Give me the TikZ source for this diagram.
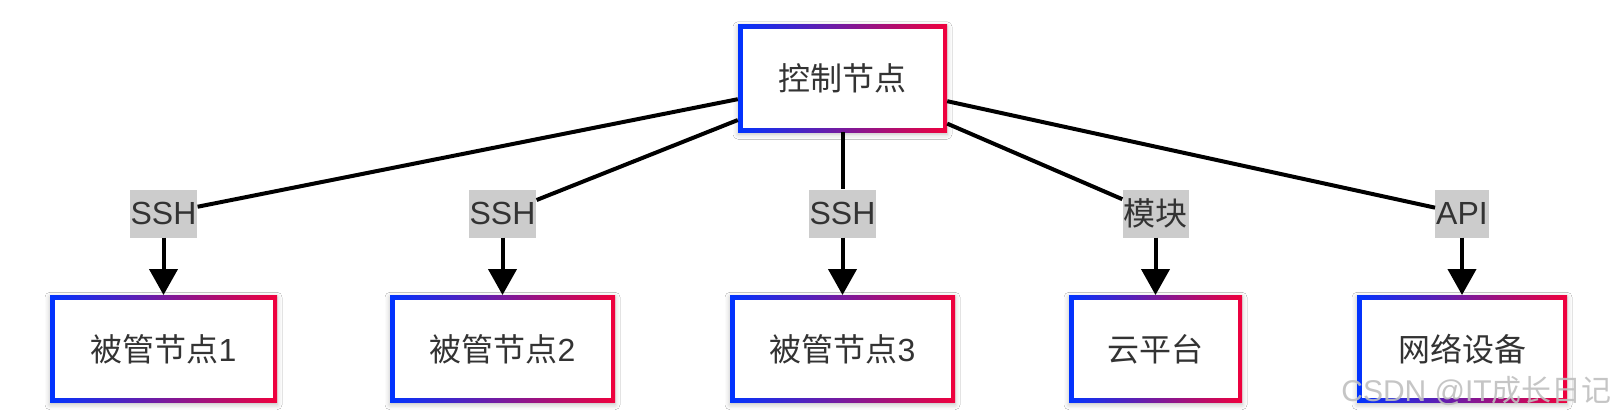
\documentclass[tikz,border=0pt]{standalone}
\usepackage{fontspec}
\setmainfont{Liberation Sans}
\newfontfamily\cjk{Noto Sans CJK SC}
\usetikzlibrary{arrows.meta,shadows.blur}
\definecolor{gblue}{RGB}{0,51,255}
\definecolor{gred}{RGB}{240,0,60}
\definecolor{txt}{RGB}{51,51,51}
\definecolor{lblgray}{RGB}{204,204,204}
\begin{document}
\begin{tikzpicture}[x=1pt,y=-1pt,
  gbox/.style={rectangle, minimum width=#1, minimum height=107.5pt, inner sep=0pt,
    left color=gblue, right color=gred, text=txt, font=\fontsize{32}{38}\selectfont,
    blur shadow={shadow xshift=0pt, shadow yshift=-2pt, shadow blur radius=5pt, shadow opacity=25},
    path picture={\fill[white] ([shift={(4.5pt,4.5pt)}]path picture bounding box.south west) rectangle ([shift={(-4.5pt,-4.5pt)}]path picture bounding box.north east);}},
  lbl/.style={rectangle, fill=lblgray, inner xsep=1pt, inner ysep=0pt, minimum height=48pt,
    text=txt, font=\fontsize{32}{38}\selectfont},
  conn/.style={draw=black, line width=4pt},
  arr/.style={conn, -{Triangle[width=28pt,length=26pt]}}]
\fill[white] (0,0) rectangle (1618,420);
\useasboundingbox (0,0) rectangle (1618,420);

\node[gbox=209pt] (top) at (842.5,78.5) {\cjk 控制节点};
\node[gbox=227pt] (b1) at (163.5,349) {{\cjk 被管节点}1};
\node[gbox=225pt] (b2) at (502.5,349) {{\cjk 被管节点}2};
\node[gbox=225pt] (b3) at (842.5,349) {{\cjk 被管节点}3};
\node[gbox=173pt] (b4) at (1155.5,349) {\cjk 云平台};
\node[gbox=210pt] (b5) at (1462,349) {\cjk 网络设备};

\node[lbl] (l1) at (163.5,213.5) {SSH};
\node[lbl] (l2) at (502.5,213.5) {SSH};
\node[lbl] (l3) at (842.5,213.5) {SSH};
\node[lbl] (l4) at (1155.5,213.5) {\cjk 模块};
\node[lbl] (l5) at (1462,213.5) {API};

\draw[conn] (top) -- (l1); \draw[arr] (l1) -- (b1);
\draw[conn] (top) -- (l2); \draw[arr] (l2) -- (b2);
\draw[conn] (top) -- (l3); \draw[arr] (l3) -- (b3);
\draw[conn] (top) -- (l4); \draw[arr] (l4) -- (b4);
\draw[conn] (top) -- (l5); \draw[arr] (l5) -- (b5);

\node[anchor=east, inner sep=0pt, font=\fontsize{30}{34}\selectfont, text=gray!50, opacity=0.9] (wm) at (1612,391) {CSDN @IT{\cjk 成长日记}};
\end{tikzpicture}
\end{document}
